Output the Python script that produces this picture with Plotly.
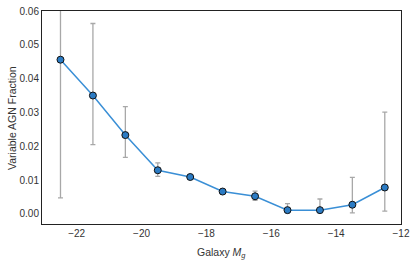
import plotly.graph_objects as go

mag = [-22.5, -21.5, -20.5, -19.5, -18.5, -17.5, -16.5, -15.5, -14.5, -13.5, -12.5]
frac = [0.0456, 0.0350, 0.0233, 0.0129, 0.0109, 0.0066, 0.0052, 0.0011, 0.0011, 0.0027, 0.0078]
err_hi = [0.0750, 0.0563, 0.0317, 0.0151, 0.0116, 0.0071, 0.0067, 0.0030, 0.0044, 0.0108, 0.0301]
err_lo = [0.0047, 0.0205, 0.0167, 0.0111, 0.0103, 0.0062, 0.0040, 0.0004, 0.0004, 0.0003, 0.0008]

up = [h - v for h, v in zip(err_hi, frac)]
down = [v - l for l, v in zip(err_lo, frac)]

FONT = "Liberation Sans, Arial"

fig = go.Figure()
fig.add_trace(go.Scatter(
    x=mag, y=frac, mode="lines+markers",
    line=dict(color="#3a8fd6", width=1.5),
    marker=dict(size=7, color="#2b7bc4", line=dict(color="#111111", width=1)),
    error_y=dict(type="data", symmetric=False, array=up, arrayminus=down,
                 color="#a8a8a8", thickness=1.3, width=2.5),
))

axis_common = dict(showline=True, linecolor="#222", linewidth=1, mirror=True,
                   showgrid=False, zeroline=False, ticks="", automargin=False,
                   tickfont=dict(family=FONT, size=10, color="#333"))

fig.update_layout(
    width=415, height=260,
    margin=dict(l=42, r=14, t=11, b=36),
    paper_bgcolor="white", plot_bgcolor="white",
    showlegend=False,
    xaxis=dict(range=[-23.07, -12], tickvals=[-22, -20, -18, -16, -14, -12],
               **axis_common),
    yaxis=dict(range=[-0.003, 0.06], tickvals=[0, 0.01, 0.02, 0.03, 0.04, 0.05, 0.06],
               tickformat=".2f",
               **axis_common),
    annotations=[
        dict(text="Galaxy <i>M</i><sub><i>g</i></sub>", xref="paper", yref="paper",
             x=0.5, y=-0.135, xanchor="center", yanchor="middle", showarrow=False,
             font=dict(family=FONT, size=10.5, color="#333")),
        dict(text="Variable AGN Fraction", xref="paper", yref="paper",
             x=-0.085, y=0.5, xanchor="center", yanchor="middle", textangle=-90,
             showarrow=False, font=dict(family=FONT, size=10.5, color="#333")),
    ],
)

fig.write_html("out.html", config={"displayModeBar": False},
               post_script="document.body.style.margin='0px';")
